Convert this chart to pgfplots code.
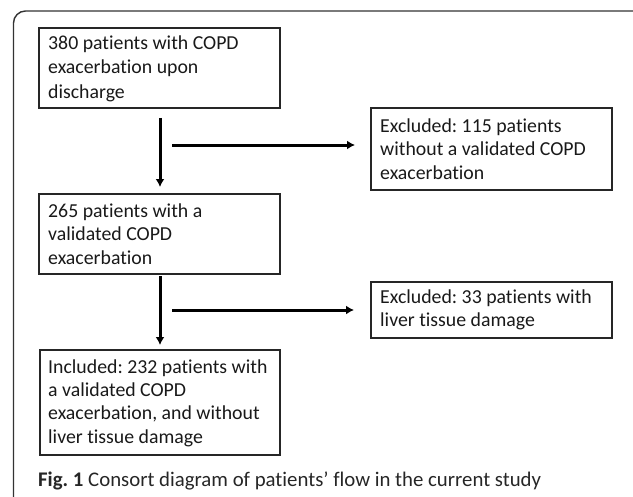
\documentclass[border=0pt]{standalone}
\usepackage{fontspec}
\setmainfont[Ligatures=NoCommon]{Carlito}
\usepackage{pgfplots}
\pgfplotsset{compat=1.18}
\usetikzlibrary{arrows.meta}
\frenchspacing
\newcommand\bxfont{\fontsize{19.8bp}{24bp}\selectfont}
\newcommand\capfont{\fontsize{20.8bp}{24bp}\selectfont}
\begin{document}
\begin{tikzpicture}
\begin{axis}[width=633bp,height=497bp,scale only axis,
  xmin=0,xmax=633,ymin=0,ymax=497,y dir=reverse,hide axis,clip=true,
  clip bounding box=upper bound]
% invisible extent of the page
\addplot[draw=none, mark=none] coordinates {(0,0) (633,497)};
% outer frame
\addplot[draw=black!80, line width=1.4bp, rounded corners=12bp] coordinates {(13.5,497) (13.5,11) (633,11)};
% boxes
\addplot[draw=black!85, line width=1.5bp] coordinates {(39,28) (280,28) (280,108) (39,108) (39,28) (280,28)};
\addplot[draw=black!85, line width=1.5bp] coordinates {(371,108) (612,108) (612,190) (371,190) (371,108) (612,108)};
\addplot[draw=black!85, line width=1.5bp] coordinates {(39,194) (280,194) (280,274) (39,274) (39,194) (280,194)};
\addplot[draw=black!85, line width=1.5bp] coordinates {(371,282) (612,282) (612,338) (371,338) (371,282) (612,282)};
\addplot[draw=black!85, line width=1.5bp] coordinates {(40,350) (280,350) (280,455) (40,455) (40,350) (280,350)};
% arrows
\addplot[draw=black, line width=3bp, -{Latex[length=8bp,width=9bp]}] coordinates {(160,118) (160,187)};
\addplot[draw=black, line width=3bp, -{Latex[length=8bp,width=9bp]}] coordinates {(172,145) (355,145)};
\addplot[draw=black, line width=3bp, -{Latex[length=8bp,width=9bp]}] coordinates {(160,276) (160,345)};
\addplot[draw=black, line width=3bp, -{Latex[length=8bp,width=9bp]}] coordinates {(172,310) (354,310)};
% texts
\begin{scope}[every node/.style={anchor=base west, inner sep=0pt, font=\bxfont, text=black!90}]
\node at (axis cs:48,50) {380 patients with COPD};
\node at (axis cs:48,74) {exacerbation upon};
\node at (axis cs:48,98) {discharge};
\node at (axis cs:380,132) {Excluded: 115 patients};
\node at (axis cs:380,155.5) {without a validated COPD};
\node at (axis cs:380,179) {exacerbation};
\node at (axis cs:48,217) {265 patients with a};
\node at (axis cs:48,240.5) {validated COPD};
\node at (axis cs:48,264) {exacerbation};
\node at (axis cs:380,303.5) {Excluded: 33 patients with};
\node at (axis cs:380,326.5) {liver tissue damage};
\node at (axis cs:48,373) {Included: 232 patients with};
\node at (axis cs:48,396) {a validated COPD};
\node at (axis cs:48,419.5) {exacerbation, and without};
\node at (axis cs:48,443) {liver tissue damage};
\end{scope}
\node[anchor=base west, inner sep=0pt, font=\capfont, text=black!85] at (axis cs:38,486) {\textbf{Fig. 1} Consort diagram of patients’ flow in the current study};
\end{axis}
\end{tikzpicture}
\end{document}
